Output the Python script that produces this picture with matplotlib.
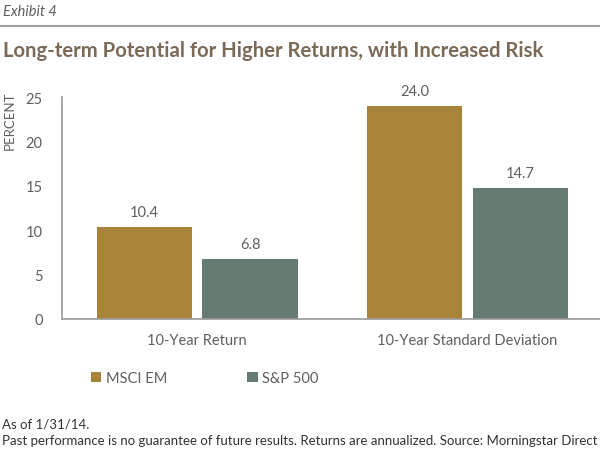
import matplotlib.pyplot as plt
import numpy as np

# data
categories = ["10-Year Return", "10-Year Standard Deviation"]
msci_em = [10.4, 24.0]
sp500 = [6.8, 14.7]
series_names = ["MSCI EM", "S&P 500"]
yticks = [0, 5, 10, 15, 20, 25]

gold = "#A8843A"
green = "#657A70"
grey = "#5f5f5f"

plt.rcParams['font.family'] = ['Lato', 'DejaVu Sans']

fig = plt.figure(figsize=(6, 4.52), dpi=100)
ax = fig.add_axes([62/600, 1 - 320/452, 538/600, 222/452])

x = np.arange(len(categories))
w = 0.352
off = 0.0195 + w / 2
b1 = ax.bar(x - off, msci_em, w, color=gold, label=series_names[0])
b2 = ax.bar(x + off, sp500, w, color=green, label=series_names[1])

for bars in (b1, b2):
    for r in bars:
        ax.text(r.get_x() + r.get_width() / 2, r.get_height() + 0.9,
                f"{r.get_height():.1f}", ha="center", va="bottom",
                fontsize=10.5, color=grey)

ax.set_xlim(-0.5, 1.49)
ax.set_ylim(0, 25)
ax.set_yticks(yticks)
ax.set_xticks(x)
ax.set_xticklabels(categories)
ax.tick_params(axis="both", length=0, labelsize=10.5, colors=grey)
ax.tick_params(axis="y", pad=14)
ax.tick_params(axis="x", pad=10)
for s in ("top", "right"):
    ax.spines[s].set_visible(False)
for s in ("left", "bottom"):
    ax.spines[s].set_color("#9a9a9a")
    ax.spines[s].set_linewidth(1.2)

fig.text(4/600, 1 - 121/452, "PERCENT", rotation=90, ha="left", va="center",
         fontsize=9.5, color=grey)

leg = fig.legend(handles=[b1, b2], labels=series_names, loc="center left",
                 bbox_to_anchor=(78/600, 1 - 379/452), ncol=2, frameon=False,
                 fontsize=10.5, handlelength=0.7, handleheight=0.7,
                 handletextpad=0.3, columnspacing=5.5, labelcolor=grey)

# header
fig.text(3/600, 1 - 12/452, "Exhibit 4", style="italic", fontsize=10.5,
         color=grey, ha="left", va="center")
fig.add_artist(plt.Line2D([0, 1], [1 - 27/452, 1 - 27/452], color="#a0a0a0",
                          linewidth=1.5))
fig.text(3/600, 1 - 51/452, "Long-term Potential for Higher Returns, with Increased Risk",
         fontsize=14.6, fontweight="bold", color="#7B6A58", ha="left", va="center")

# footnotes
fig.text(2/600, 1 - 425/452, "As of 1/31/14.", fontsize=9.5, color="#333333",
         ha="left", va="center")
fig.text(2/600, 1 - 441/452,
         "Past performance is no guarantee of future results. Returns are annualized. Source: Morningstar Direct",
         fontsize=9.5, color="#333333", ha="left", va="center")

fig.savefig("out.png", dpi=100)
